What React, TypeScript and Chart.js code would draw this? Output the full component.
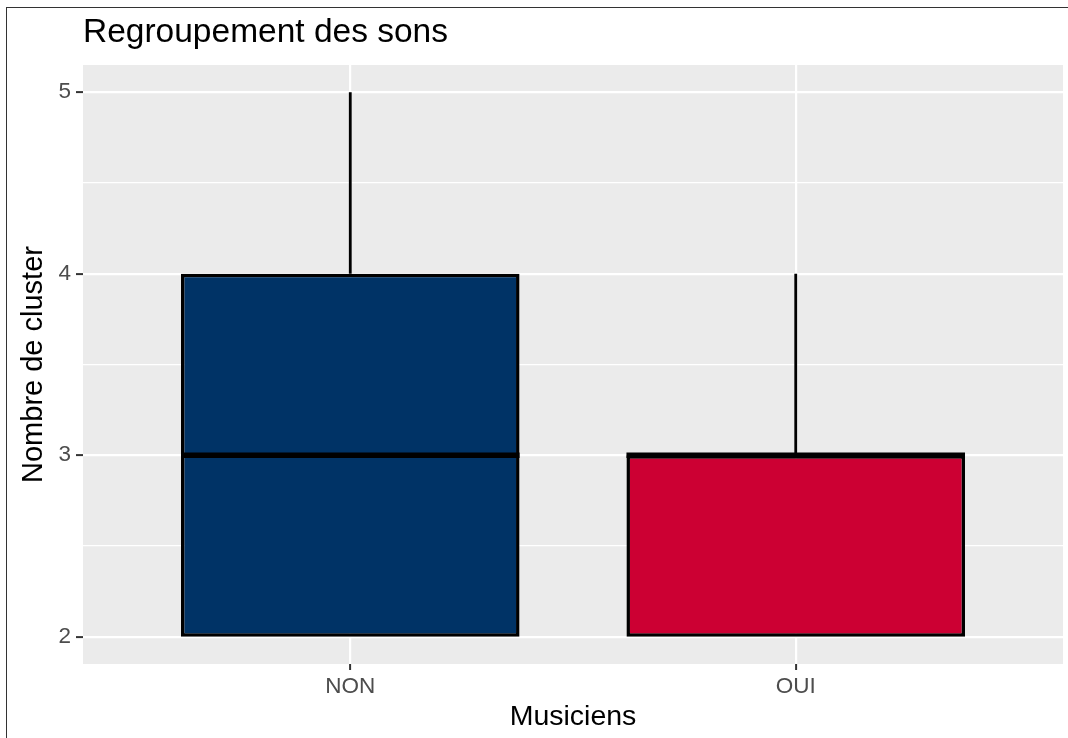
import React, { useEffect, useRef } from "react";
import { Chart, registerables } from "chart.js";
Chart.register(...registerables);

const categories = ["NON", "OUI"];
const whiskerLow = [2, 2];
const q1 = [2, 2];
const median = [3, 3];
const q3 = [4, 3];
const whiskerHigh = [5, 4];
const fillColors = ["#003366", "#CC0033"];
const yMajorTicks = [2, 3, 4, 5];
const yMinorTicks = [2.5, 3.5, 4.5];
const yRange = [1.85, 5.15];
const xRange = [0.4, 2.6];

const FONT = "'Liberation Sans', Arial, Helvetica, sans-serif";

export default function App() {
  const ref = useRef<HTMLCanvasElement>(null);

  useEffect(() => {
    document.body.style.margin = "0";
    const canvas = ref.current;
    if (!canvas) return;

    const panelBg = {
      id: "panelBg",
      beforeDraw(chart: any) {
        const { ctx, chartArea: a } = chart;
        ctx.save();
        ctx.fillStyle = "#EBEBEB";
        ctx.fillRect(a.left, a.top, a.right - a.left, a.bottom - a.top);
        ctx.restore();
      },
    };

    const whiskers = {
      id: "whiskers",
      beforeDatasetsDraw(chart: any) {
        const { ctx } = chart;
        const y = chart.scales.y;
        const meta = chart.getDatasetMeta(0);
        ctx.save();
        ctx.strokeStyle = "#000000";
        ctx.lineWidth = 2.8;
        ctx.lineCap = "butt";
        meta.data.forEach((bar: any, i: number) => {
          const { x } = bar.getProps(["x"], true);
          ctx.beginPath();
          ctx.moveTo(x, y.getPixelForValue(q3[i]));
          ctx.lineTo(x, y.getPixelForValue(whiskerHigh[i]));
          ctx.stroke();
          if (whiskerLow[i] < q1[i]) {
            ctx.beginPath();
            ctx.moveTo(x, y.getPixelForValue(q1[i]));
            ctx.lineTo(x, y.getPixelForValue(whiskerLow[i]));
            ctx.stroke();
          }
        });
        ctx.restore();
      },
      afterDatasetsDraw(chart: any) {
        const { ctx } = chart;
        const y = chart.scales.y;
        const meta = chart.getDatasetMeta(0);
        ctx.save();
        ctx.strokeStyle = "#000000";
        ctx.lineWidth = 5.5;
        ctx.lineCap = "butt";
        meta.data.forEach((bar: any, i: number) => {
          const { x, width } = bar.getProps(["x", "width"], true);
          const ym = y.getPixelForValue(median[i]);
          ctx.beginPath();
          ctx.moveTo(x - width / 2, ym);
          ctx.lineTo(x + width / 2, ym);
          ctx.stroke();
        });
        ctx.restore();
      },
    };

    const isMajor = (v: number) => yMajorTicks.includes(v);

    const chart = new Chart(canvas, {
      type: "bar",
      data: {
        datasets: [
          {
            data: categories.map((c, i) => ({ x: i + 1, y: [q1[i], q3[i]] })) as any,
            backgroundColor: fillColors,
            borderColor: "#000000",
            borderWidth: 3.5,
            borderSkipped: false,
            barPercentage: 0.76,
            categoryPercentage: 1,
          },
        ],
      },
      options: {
        responsive: false,
        animation: false,
        events: [],
        layout: { padding: { top: 0, left: 0, right: 5, bottom: 0 } },
        plugins: {
          legend: { display: false },
          tooltip: { enabled: false },
          title: {
            display: true,
            text: "Regroupement des sons",
            align: "start",
            fullSize: false,
            color: "#000000",
            font: { family: FONT, size: 33.5, weight: "normal", lineHeight: 1.2 },
            padding: { top: 12.8, bottom: 12 },
          },
        },
        scales: {
          x: {
            type: "linear",
            min: xRange[0],
            max: xRange[1],
            offset: false,
            afterBuildTicks: (s: any) => {
              s.ticks = categories.map((_, i) => ({ value: i + 1 }));
            },
            afterFit: (s: any) => {
              s.height = 74;
            },
            ticks: {
              callback: (_v: any, idx: number) => categories[idx] ?? "",
              color: "#4D4D4D",
              font: { family: FONT, size: 22.5, lineHeight: 1.2 },
              padding: 3,
              autoSkip: false,
              maxRotation: 0,
              minRotation: 0,
            },
            grid: {
              offset: false,
              color: "#FFFFFF",
              lineWidth: 2.2,
              tickLength: 6,
              tickColor: "#333333",
              tickWidth: 2,
            },
            border: { display: false },
            title: {
              display: true,
              text: "Musiciens",
              color: "#000000",
              font: { family: FONT, size: 28.5, lineHeight: 1.2 },
              padding: { top: 0, bottom: 4 },
            },
          },
          y: {
            type: "linear",
            min: yRange[0],
            max: yRange[1],
            afterBuildTicks: (s: any) => {
              s.ticks = [...yMajorTicks, ...yMinorTicks]
                .sort((a, b) => a - b)
                .map((v) => ({ value: v }));
            },
            afterFit: (s: any) => {
              s.width = 83;
            },
            ticks: {
              callback: (v: any) => (isMajor(Number(v)) ? String(v) : ""),
              color: "#4D4D4D",
              font: { family: FONT, size: 22.5, lineHeight: 1.2 },
              padding: 5,
              autoSkip: false,
            },
            grid: {
              color: "#FFFFFF",
              lineWidth: (c: any) => (c.tick && isMajor(c.tick.value) ? 2.2 : 1.3),
              tickColor: (c: any) =>
                c.tick && isMajor(c.tick.value) ? "#333333" : "rgba(0,0,0,0)",
              tickLength: 7,
              tickWidth: 2,
            },
            border: { display: false },
            title: {
              display: true,
              text: "Nombre de cluster",
              color: "#000000",
              font: { family: FONT, size: 29, lineHeight: 1.2 },
              padding: { top: 16.2, bottom: 0 },
            },
          },
        },
      } as any,
      plugins: [panelBg, whiskers],
    });

    return () => chart.destroy();
  }, []);

  return (
    <div style={{ position: "relative", width: 1068, height: 738, background: "#FFFFFF" }}>
      <canvas ref={ref} width={1068} height={738} style={{ display: "block" }} />
      <div
        style={{
          position: "absolute",
          left: 5.5,
          top: 6.5,
          width: 1062.5,
          height: 1.6,
          background: "#333333",
        }}
      />
      <div
        style={{
          position: "absolute",
          left: 5.5,
          top: 6.5,
          width: 1.6,
          height: 731.5,
          background: "#333333",
        }}
      />
    </div>
  );
}
